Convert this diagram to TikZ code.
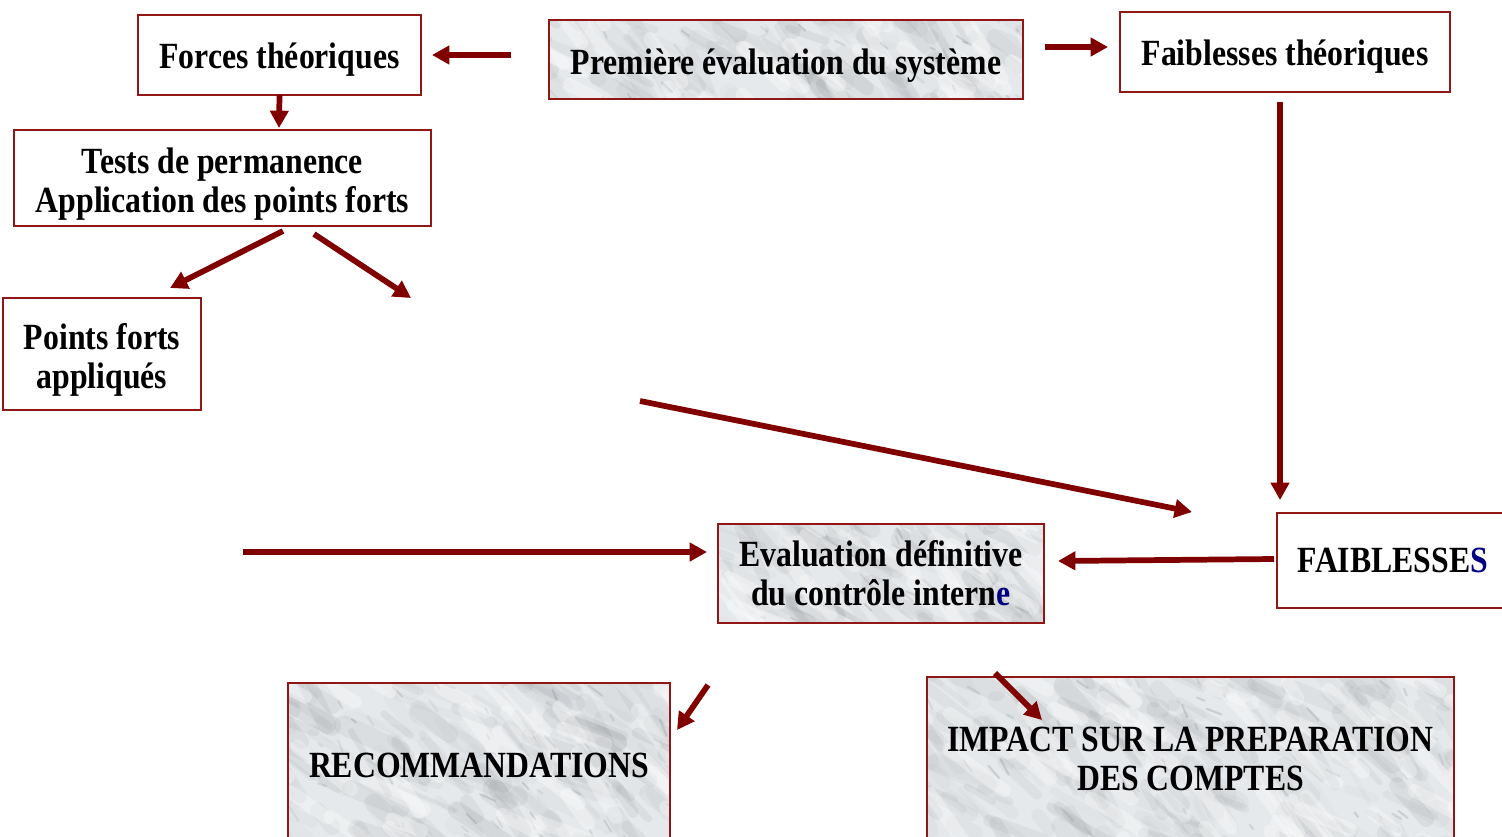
\documentclass[tikz,border=0pt]{standalone}
\usepackage{fontspec}
\setmainfont{Liberation Serif}
\newfontfamily\boxfont{Liberation Serif}[FakeStretch=0.86]
\usetikzlibrary{arrows.meta,calc}

\definecolor{boxred}{RGB}{145,22,22}
\definecolor{arrred}{RGB}{128,0,0}
\definecolor{marblebase}{RGB}{230,233,235}
\definecolor{marblevein}{RGB}{95,100,105}
\definecolor{navyletter}{RGB}{0,0,128}

\tikzset{
  boxtext/.style={inner sep=0pt, align=center, font=\boxfont\bfseries\fontsize{27.7}{29.2}\selectfont},
  box/.style={boxtext, draw=boxred, line width=1.5pt, fill=white, outer sep=0pt},
  marble/.style={fill=marblebase, path picture={
      \pgfmathsetseed{#1}
      % soft grey veins running up to the right
      \foreach \k in {1,...,240}{
        \pgfmathsetmacro\dx{(rnd-0.5)*620}
        \pgfmathsetmacro\dy{(rnd-0.5)*210}
        \pgfmathsetmacro\ang{15+rnd*50}
        \pgfmathsetmacro\len{15+rnd*60}
        \pgfmathsetmacro\lw{3+rnd*12}
        \pgfmathsetmacro\op{0.02+rnd*0.07}
        \draw[marblevein, line width=\lw pt, opacity=\op, line cap=round]
          ([shift={(\dx,\dy)}]path picture bounding box.center) -- ++(\ang:\len);
      }
      % small darker flecks
      \foreach \k in {1,...,90}{
        \pgfmathsetmacro\dx{(rnd-0.5)*620}
        \pgfmathsetmacro\dy{(rnd-0.5)*210}
        \pgfmathsetmacro\ang{20+rnd*50}
        \pgfmathsetmacro\len{4+rnd*14}
        \pgfmathsetmacro\op{0.08+rnd*0.12}
        \draw[marblevein, line width=1.6pt, opacity=\op, line cap=round]
          ([shift={(\dx,\dy)}]path picture bounding box.center) -- ++(\ang:\len);
      }
      % light patches
      \foreach \k in {1,...,60}{
        \pgfmathsetmacro\dx{(rnd-0.5)*620}
        \pgfmathsetmacro\dy{(rnd-0.5)*210}
        \pgfmathsetmacro\ang{20+rnd*40}
        \pgfmathsetmacro\len{20+rnd*60}
        \draw[white, line width=10pt, opacity=0.3, line cap=round]
          ([shift={(\dx,\dy)}]path picture bounding box.center) -- ++(\ang:\len);
      }
  }},
  arr/.style={draw=arrred, line width=4.3pt,
    -{Triangle[length=13pt,width=13.5pt]}},
}

\begin{document}
\begin{tikzpicture}[x=0.75pt, y=-0.75pt]
  \useasboundingbox (0,0) rectangle (1502,836);
  \clip (0,0) rectangle (1502,836);
  \fill[white] (0,0) rectangle (1502,836);

  % upper boxes: text sits a little below the middle
  \node[box, minimum width=283*0.75pt, minimum height=80*0.75pt,
        label={[boxtext, yshift=-3.75pt]center:Forces théoriques}] (forces) at (279.5,55) {};
  \node[box, marble=11, minimum width=474*0.75pt, minimum height=79*0.75pt,
        label={[boxtext, yshift=-4.5pt]center:Première évaluation du système}] (prem) at (786,59.5) {};
  \node[box, minimum width=330*0.75pt, minimum height=80*0.75pt,
        label={[boxtext, yshift=-3.75pt]center:Faiblesses théoriques}] (faib) at (1285,52) {};
  \node[box, minimum width=417*0.75pt, minimum height=96*0.75pt,
        label={[boxtext, yshift=-4.5pt]center:Tests de permanence\\Application des points forts}] (tests) at (222.5,178) {};
  \node[box, minimum width=198*0.75pt, minimum height=112*0.75pt,
        label={[boxtext, yshift=-4.5pt]center:Points forts\\appliqués}] (points) at (102,354) {};

  % lower boxes
  \node[box, marble=23, minimum width=326*0.75pt, minimum height=99*0.75pt] (evald) at (881,573.5) {Evaluation définitive\\du contrôle intern\textcolor{navyletter}{e}};
  \node[box, minimum width=232*0.75pt, minimum height=95*0.75pt] (faibl) at (1393,560.5) {FAIBLESSE\textcolor{navyletter}{S}};
  \node[box, marble=37, minimum width=382*0.75pt, minimum height=164*0.75pt] (recom) at (479,765) {RECOMMANDATIONS};
  \node[box, marble=51, minimum width=527*0.75pt, minimum height=164*0.75pt] (impact) at (1190.5,759) {IMPACT SUR LA PREPARATION\\DES COMPTES};

  % free ends
  \coordinate (tests-open) at (411,298);
  \coordinate (left-open) at (640,401);
  \coordinate (points-open) at (243,552);

  % connectors
  \draw[arr] ([shift={(-38,-4.5)}]prem.west) -- ([shift={(11,0)}]forces.east);
  \draw[arr] ([shift={(22,-12.5)}]prem.east) -- ([shift={(-12,-5)}]faib.west);
  \draw[arr] (forces.south) -- ([shift={(56.5,-2)}]tests.north);
  \draw[arr] ([shift={(60.5,5)}]tests.south) -- ([shift={(68,-10)}]points.north);
  \draw[arr] ([shift={(91.5,8)}]tests.south) -- (tests-open);
  \draw[arr] ([shift={(-5,10)}]faib.south) -- ([shift={(-113,-13)}]faibl.north);
  \draw[arr] (left-open) -- ([shift={(-85,-1)}]faibl.north west);
  \draw[arr] (points-open) -- ([shift={(-11,-21.5)}]evald.west);
  \draw[arr] ([shift={(-3,-1.5)}]faibl.west) -- ([shift={(14,-12.5)}]evald.east);
  \draw[arr] ([shift={(-173,62)}]evald.south) -- ([shift={(7,47)}]recom.north east);
  \draw[arr] ([shift={(114,50)}]evald.south) -- ([shift={(115,43)}]impact.north west);
\end{tikzpicture}
\end{document}
